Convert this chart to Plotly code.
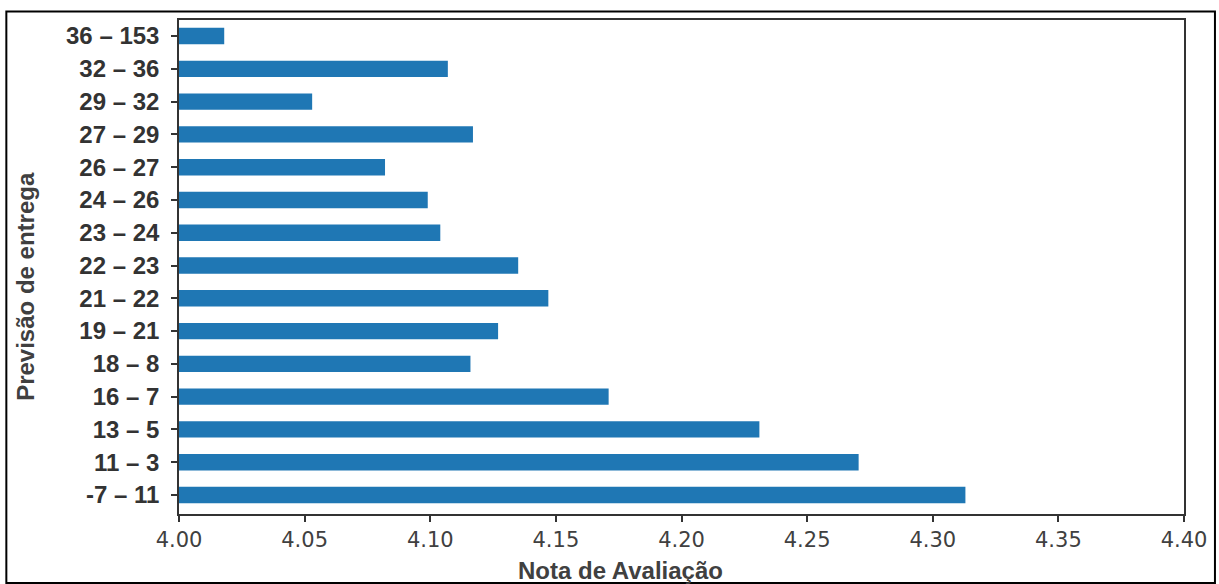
import plotly.graph_objects as go

categories = ["-7 – 11", "11 – 3", "13 – 5", "16 – 7", "18 – 8", "19 – 21", "21 – 22",
              "22 – 23", "23 – 24", "24 – 26", "26 – 27", "27 – 29", "29 – 32", "32 – 36", "36 – 153"]
values = [4.313, 4.2705, 4.231, 4.171, 4.116, 4.127, 4.147,
          4.135, 4.104, 4.099, 4.082, 4.117, 4.053, 4.107, 4.018]
x_ticks = [4.00, 4.05, 4.10, 4.15, 4.20, 4.25, 4.30, 4.35, 4.40]
x_tick_labels = ["4.00", "4.05", "4.10", "4.15", "4.20", "4.25", "4.30", "4.35", "4.40"]

fig = go.Figure(go.Bar(
    x=[v - 4.0 for v in values], base=4.0, y=list(range(len(categories))),
    orientation="h", width=0.5,
    marker=dict(color="#1f77b4", line=dict(width=0)),
))

fig.update_layout(
    width=1219, height=584,
    margin=dict(l=179, r=33, t=20, b=70),
    paper_bgcolor="white", plot_bgcolor="white",
    showlegend=False,
    xaxis=dict(range=[4.0, 4.4], tickvals=x_ticks, ticktext=x_tick_labels,
               ticks="outside", ticklen=6, tickcolor="#333", tickwidth=1.5,
               showgrid=False, zeroline=False,
               showline=True, linecolor="#333", linewidth=1.5, mirror=True,
               tickfont=dict(family="DejaVu Sans", size=21, color="#404040")),
    yaxis=dict(range=[-0.58, 14.49], tickvals=list(range(len(categories))),
               ticktext=["<b>" + c + "</b>" for c in categories],
               ticks="outside", ticklen=6, tickcolor="#333", tickwidth=1.5,
               ticklabelstandoff=7,
               showgrid=False, zeroline=False,
               showline=True, linecolor="#333", linewidth=1.5, mirror=True,
               tickfont=dict(family="Liberation Sans", size=24, color="#333333")),
    annotations=[
        dict(text="<b>Nota de Avaliação</b>", xref="paper", yref="paper",
             x=0.4394, y=-0.1134, xanchor="center", yanchor="middle", showarrow=False,
             font=dict(family="Liberation Sans", size=24, color="#404040")),
        dict(text="<b>Previsão de entrega</b>", xref="paper", yref="paper",
             x=-0.1529, y=0.4605, xanchor="center", yanchor="middle", showarrow=False,
             textangle=-90,
             font=dict(family="Liberation Sans", size=24, color="#404040")),
    ],
    shapes=[
        dict(type="rect", xref="paper", yref="paper",
             x0=-0.1718, x1=1.0308, y0=-0.1397, y1=1.0172,
             line=dict(color="black", width=2), fillcolor="rgba(0,0,0,0)"),
    ],
)

fig.write_html("out.html")
